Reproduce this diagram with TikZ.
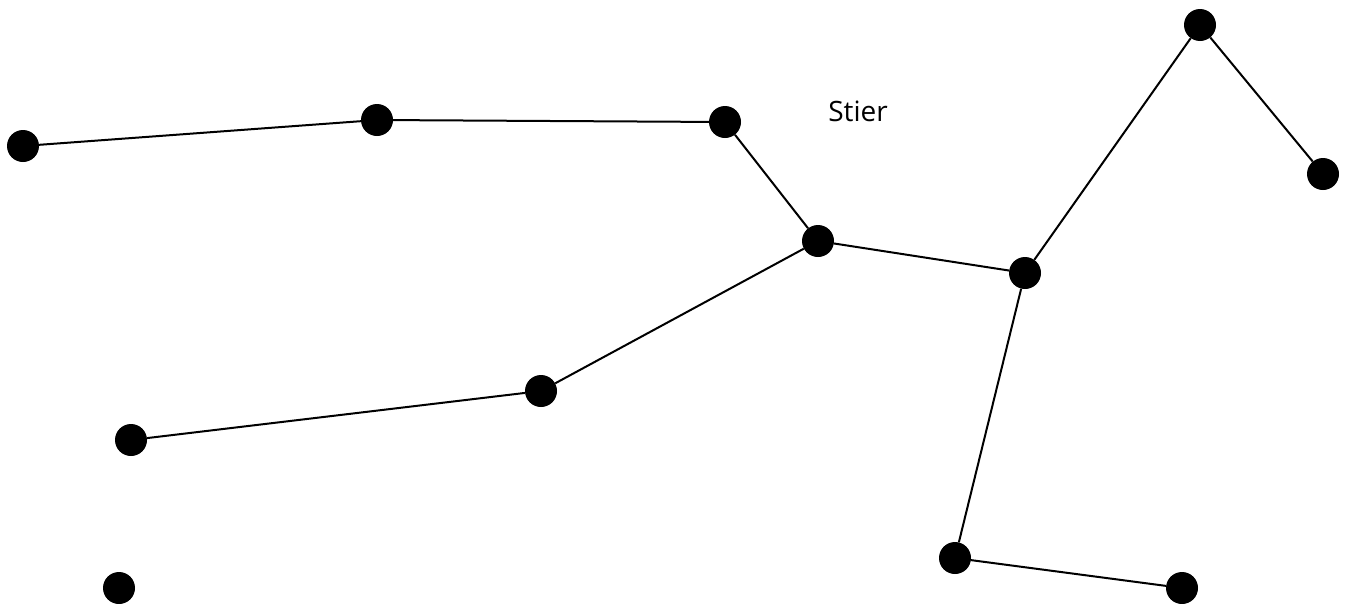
\documentclass[tikz,border=0pt]{standalone}
\usepackage{fontspec}
\setmainfont{Open Sans}
\usetikzlibrary{positioning}
\tikzstyle{star} = [circle, fill=black, inner sep=0pt, minimum size=32pt]
\tikzstyle{link} = [line width=2pt]

\begin{document}
\begin{tikzpicture}[x=1pt, y=-1pt]
	\useasboundingbox (0,0) rectangle (1351,603);
	\node (a) [star] at (23,146) {};
	\node (b) [star] at (377,120) {};
	\node (c) [star] at (725,122) {};
	\node (d) [star] at (818,241) {};
	\node (e) [star] at (1025,273) {};
	\node (f) [star] at (1200,25) {};
	\node (g) [star] at (1323,174) {};
	\node (h) [star] at (541,391) {};
	\node (i) [star] at (131,440) {};
	\node (j) [star] at (119,588) {};
	\node (k) [star] at (955,558) {};
	\node (l) [star] at (1182,588) {};
	\node (name) at (858,111) {\fontsize{28pt}{34pt}\selectfont Stier};
	\draw [link] (a) -- (b) -- (c) -- (d) -- (e) -- (f) -- (g);
	\draw [link] (d) -- (h) -- (i);
	\draw [link] (e) -- (k) -- (l);
\end{tikzpicture}
\end{document}
